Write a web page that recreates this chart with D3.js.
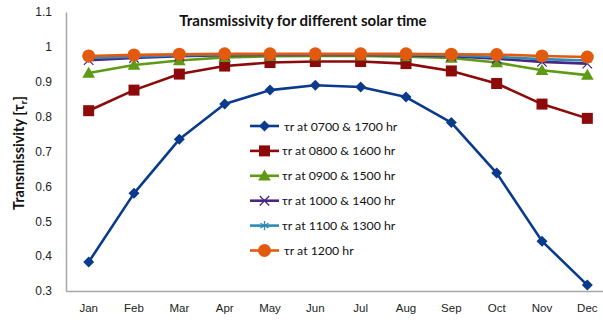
<!DOCTYPE html>
<html>
<head>
<meta charset="utf-8">
<script src="https://cdn.jsdelivr.net/npm/d3@7"></script>
<style>
  html, body { margin: 0; padding: 0; background: #fff; }
  svg { display: block; font-family: Lato, "Open Sans", sans-serif; }
</style>
</head>
<body>
<svg id="chart" width="603" height="323"></svg>
<script>
// Monthly transmissivity for different solar times
const months = ["Jan","Feb","Mar","Apr","May","Jun","Jul","Aug","Sep","Oct","Nov","Dec"];
const yTicks = [0.3, 0.4, 0.5, 0.6, 0.7, 0.8, 0.9, 1, 1.1];

const tr0700 = [0.383, 0.580, 0.735, 0.836, 0.876, 0.890, 0.885, 0.856, 0.783, 0.638, 0.443, 0.317];
const tr0800 = [0.817, 0.876, 0.922, 0.945, 0.955, 0.958, 0.958, 0.952, 0.931, 0.895, 0.836, 0.795];
const tr0900 = [0.925, 0.948, 0.961, 0.970, 0.973, 0.974, 0.974, 0.972, 0.968, 0.955, 0.933, 0.919];
const tr1000 = [0.962, 0.968, 0.973, 0.976, 0.977, 0.977, 0.977, 0.976, 0.973, 0.966, 0.957, 0.952];
const tr1100 = [0.968, 0.972, 0.976, 0.978, 0.979, 0.979, 0.979, 0.978, 0.976, 0.971, 0.965, 0.961];
const tr1200 = [0.974, 0.977, 0.979, 0.980, 0.980, 0.980, 0.980, 0.980, 0.979, 0.978, 0.974, 0.971];

const seriesNames = ["τr at 0700 & 1700 hr", "τr at 0800 & 1600 hr", "τr at 0900 & 1500 hr",
                     "τr at 1000 & 1400 hr", "τr at 1100 & 1300 hr", "τr at 1200 hr"];

const series = [
  { name: seriesNames[0], values: tr0700, color: "#0a3a8c", marker: "diamond" },
  { name: seriesNames[1], values: tr0800, color: "#8c0a0a", marker: "square" },
  { name: seriesNames[2], values: tr0900, color: "#5e9a14", marker: "triangle" },
  { name: seriesNames[3], values: tr1000, color: "#4a2584", marker: "x" },
  { name: seriesNames[4], values: tr1100, color: "#2f8bb3", marker: "star" },
  { name: seriesNames[5], values: tr1200, color: "#e35a0e", marker: "circle" }
];

const svg = d3.select("#chart");
const plotLeft = 66, plotRight = 610, plotTop = 12, plotBottom = 291;

const x = d3.scaleBand().domain(months).range([plotLeft, plotRight]).padding(0);
const y = d3.scaleLinear().domain([0.3, 1.1]).range([plotBottom, plotTop]);
const cx = m => x(m) + x.bandwidth() / 2;

// Axes
const yAxis = d3.axisLeft(y).tickValues(yTicks).tickSize(0).tickPadding(14)
  .tickFormat(d => d3.format("")(+d.toFixed(1)));
svg.append("g").attr("transform", `translate(${plotLeft},0)`).call(yAxis)
  .call(g => g.select(".domain").attr("stroke", "#a6a6a6").attr("stroke-width", 1.5))
  .call(g => g.selectAll("text").attr("font-size", 12).attr("fill", "#222"));

const xAxis = d3.axisBottom(x).tickSize(0).tickPadding(13);
svg.append("g").attr("transform", `translate(0,${plotBottom})`).call(xAxis)
  .call(g => g.select(".domain").attr("stroke", "#a6a6a6").attr("stroke-width", 1.5))
  .call(g => g.selectAll("text").attr("font-size", 11.5).attr("fill", "#222"));

// Title
svg.append("text").attr("x", 303).attr("y", 26).attr("text-anchor", "middle")
  .attr("font-size", 15).attr("font-weight", "bold").attr("fill", "#111")
  .text("Transmissivity for different solar time");

// Y-axis label
const yl = svg.append("text").attr("transform", "translate(24,153) rotate(-90)")
  .attr("text-anchor", "middle").attr("font-size", 14.5).attr("font-weight", "bold").attr("fill", "#111");
yl.append("tspan").text("Transmissivity  [τ");
yl.append("tspan").attr("font-size", 10).attr("dy", 3).text("r");
yl.append("tspan").attr("dy", -3).text("]");

// Marker drawing
function drawMarker(g, type, color, px, py) {
  switch (type) {
    case "diamond":
      g.append("path").attr("d", "M0,-5.5L5.5,0L0,5.5L-5.5,0Z").attr("transform", `translate(${px},${py})`).attr("fill", color);
      break;
    case "square":
      g.append("rect").attr("x", px - 5.5).attr("y", py - 5.5).attr("width", 11).attr("height", 11).attr("fill", color);
      break;
    case "triangle":
      g.append("path").attr("d", d3.symbol(d3.symbolTriangle, 70)()).attr("transform", `translate(${px},${py+1})`).attr("fill", color);
      break;
    case "x":
      g.append("path").attr("d", d3.symbol(d3.symbolTimes, 60)()).attr("transform", `translate(${px},${py})`)
        .attr("fill", "none").attr("stroke", color).attr("stroke-width", 1.3);
      break;
    case "star":
      g.append("path").attr("d", d3.symbol(d3.symbolAsterisk, 60)()).attr("transform", `translate(${px},${py})`)
        .attr("fill", "none").attr("stroke", color).attr("stroke-width", 1.3);
      break;
    case "circle":
      g.append("circle").attr("cx", px).attr("cy", py).attr("r", 6.5).attr("fill", color);
      break;
  }
}

const line = d3.line().x((d, i) => cx(months[i])).y(d => y(d));

series.forEach(s => {
  const g = svg.append("g");
  g.append("path").datum(s.values).attr("d", line).attr("fill", "none")
    .attr("stroke", s.color).attr("stroke-width", 2.6).attr("stroke-linejoin", "round");
  s.values.forEach((v, i) => drawMarker(g, s.marker, s.color, cx(months[i]), y(v)));
});

// Legend
const lg = svg.append("g");
series.forEach((s, i) => {
  const ly = 126 + i * 24.9;
  lg.append("line").attr("x1", 250).attr("x2", 279).attr("y1", ly).attr("y2", ly)
    .attr("stroke", s.color).attr("stroke-width", 2.6);
  drawMarker(lg, s.marker, s.color, 264.5, ly);
  lg.append("text").attr("x", i === 0 || i === 5 ? 284 : 282).attr("y", ly + 4.5)
    .attr("font-size", 12.3).attr("fill", "#111").text(s.name);
});
</script>
</body>
</html>
